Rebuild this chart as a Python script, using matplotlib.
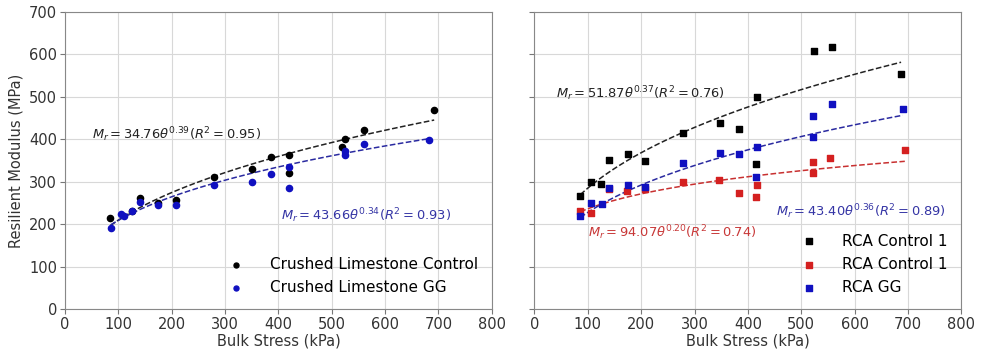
import numpy as np
import matplotlib
matplotlib.use("Agg")
import matplotlib.pyplot as plt

# Crushed limestone (left panel)
cl_ctrl_x = [85, 125, 141, 175, 209, 280, 350, 387, 420, 420, 519, 524, 560, 692]
cl_ctrl_y = [214, 231, 261, 249, 257, 310, 330, 359, 362, 320, 383, 400, 421, 469]
cl_gg_x = [86, 105, 110, 126, 141, 175, 209, 280, 350, 387, 420, 420, 524, 524, 560, 683]
cl_gg_y = [190, 224, 220, 231, 252, 246, 244, 293, 299, 318, 335, 286, 373, 362, 388, 399]

# RCA (right panel)
rca_ctrl_x = [86, 106, 125, 140, 175, 208, 279, 348, 383, 417, 415, 523, 557, 687]
rca_ctrl_y = [267, 299, 295, 352, 366, 350, 415, 439, 425, 499, 341, 607, 617, 554]
rca_ctrl2_x = [86, 106, 140, 173, 208, 279, 345, 383, 415, 417, 522, 522, 554, 694]
rca_ctrl2_y = [230, 227, 282, 278, 283, 300, 304, 274, 263, 293, 346, 321, 356, 374]
rca_gg_x = [86, 106, 126, 140, 175, 208, 279, 348, 383, 417, 415, 522, 522, 557, 690]
rca_gg_y = [219, 250, 248, 285, 293, 287, 344, 368, 366, 383, 312, 456, 406, 482, 472]

# fitted model coefficients Mr = k1 * theta^k2 (with R^2)
fit_cl_ctrl = (34.76, 0.39, 0.95)
fit_cl_gg = (43.66, 0.34, 0.93)
fit_rca_ctrl = (51.87, 0.37, 0.76)
fit_rca_ctrl2 = (94.07, 0.20, 0.74)
fit_rca_gg = (43.40, 0.36, 0.89)

BLACK = "#000000"
BLUE = "#1010c0"
RED = "#d42020"


def fit_line(ax, xs, fit, color):
    t = np.linspace(min(xs), max(xs), 100)
    ax.plot(t, fit[0] * t ** fit[1], "--", color=color, lw=1.1)


def eq_text(fit):
    return r"$M_r = %.2f\theta^{%.2f}(R^2 = %.2f)$" % fit


fig, (ax1, ax2) = plt.subplots(1, 2, figsize=(9.84, 3.52), dpi=100, sharey=True)
fig.subplots_adjust(left=0.066, right=0.977, bottom=0.122, top=0.966, wspace=0.1)

ax1.scatter(cl_ctrl_x, cl_ctrl_y, s=20, color=BLACK, label="Crushed Limestone Control", zorder=3)
ax1.scatter(cl_gg_x, cl_gg_y, s=20, color=BLUE, label="Crushed Limestone GG", zorder=3)
fit_line(ax1, cl_ctrl_x, fit_cl_ctrl, "#222222")
fit_line(ax1, cl_gg_x, fit_cl_gg, "#2a2aa0")
ax1.text(50, 410, eq_text(fit_cl_ctrl), color="#222222", fontsize=9.4, va="center")
ax1.text(405, 219, eq_text(fit_cl_gg), color="#3535a5", fontsize=9.4, va="center")

ax2.scatter(rca_ctrl_x, rca_ctrl_y, s=25, marker="s", color=BLACK, label="RCA Control 1", zorder=3)
ax2.scatter(rca_ctrl2_x, rca_ctrl2_y, s=25, marker="s", color=RED, label="RCA Control 1", zorder=3)
ax2.scatter(rca_gg_x, rca_gg_y, s=25, marker="s", color=BLUE, label="RCA GG", zorder=3)
fit_line(ax2, rca_ctrl_x, fit_rca_ctrl, "#222222")
fit_line(ax2, rca_ctrl2_x, fit_rca_ctrl2, "#c83030")
fit_line(ax2, rca_gg_x, fit_rca_gg, "#2a2aa0")
ax2.text(41, 508, eq_text(fit_rca_ctrl), color="#222222", fontsize=9.4, va="center")
ax2.text(100, 181, eq_text(fit_rca_ctrl2), color="#c83838", fontsize=9.4, va="center")
ax2.text(453, 230, eq_text(fit_rca_gg), color="#3535a5", fontsize=9.4, va="center")

for ax in (ax1, ax2):
    ax.set_xlim(0, 800)
    ax.set_ylim(0, 700)
    ax.set_xticks(range(0, 801, 100))
    ax.set_yticks(range(0, 701, 100))
    ax.grid(True, color="#d8d8d8", lw=0.8)
    ax.set_axisbelow(True)
    ax.set_xlabel("Bulk Stress (kPa)", fontsize=10.5, labelpad=1, color="#333333")
    ax.tick_params(labelsize=10.5, color="#777777", labelcolor="#333333", pad=2)
    for sp in ax.spines.values():
        sp.set_color("#888888")
    ax.legend(loc="lower right", frameon=False, fontsize=11, handletextpad=1.2,
              labelspacing=0.55, borderaxespad=0.5, markerscale=0.8)

ax2.tick_params(labelleft=False)
ax1.set_ylabel("Resilient Modulus (MPa)", fontsize=10.5, color="#333333")

fig.savefig("out.png", dpi=100)
